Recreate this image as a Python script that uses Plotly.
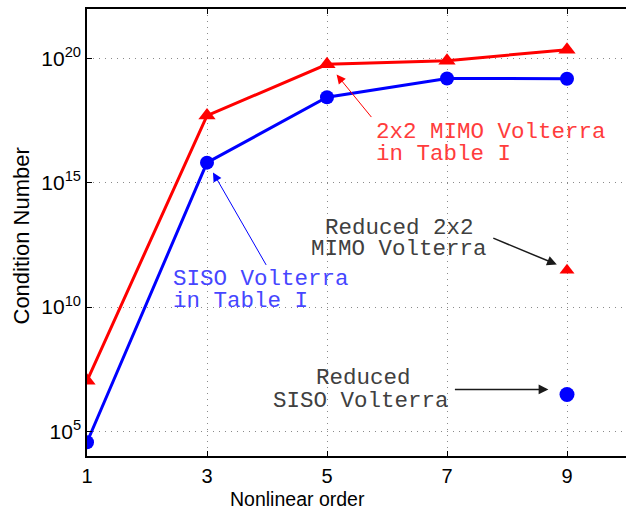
import plotly.graph_objects as go

# ---- data ----
orders = [1, 3, 5, 7, 9]
siso_cond = [3.6e4, 6.5e15, 2.8e18, 1.6e19, 1.55e19]
mimo_cond = [1.07e7, 5.1e17, 5.9e19, 8.3e19, 2.3e20]
reduced_order = [9]
reduced_siso_cond = [3.0e6]
reduced_mimo_cond = [3.0e11]
x_tick_vals = [1, 3, 5, 7, 9]
x_tick_text = ["1", "3", "5", "7", "9"]
y_tick_vals = [1e5, 1e10, 1e15, 1e20]
y_tick_text = ["10<sup>5</sup>", "10<sup>10</sup>", "10<sup>15</sup>", "10<sup>20</sup>"]

W, H = 626, 509
ML, MR, MT, MB = 87, 0, 9, 53
plot_w = W - ML - MR
x_range = [1, 1 + plot_w / 60.0]

sans = "Liberation Sans, Arial, Helvetica, sans-serif"
mono = "Liberation Mono, Courier New, monospace"

fig = go.Figure()
fig.add_trace(go.Scatter(
    x=orders, y=siso_cond, mode="lines+markers",
    line=dict(color="#0000ff", width=3),
    marker=dict(symbol="circle", size=14, color="#0000ff"),
    showlegend=False))
fig.add_trace(go.Scatter(
    x=orders, y=mimo_cond, mode="lines+markers",
    line=dict(color="#ff0000", width=3),
    marker=dict(symbol="triangle-up", size=15, color="#ff0000"),
    showlegend=False))
fig.add_trace(go.Scatter(
    x=reduced_order, y=reduced_siso_cond, mode="markers",
    marker=dict(symbol="circle", size=15, color="#0000ff"),
    showlegend=False))
fig.add_trace(go.Scatter(
    x=reduced_order, y=reduced_mimo_cond, mode="markers",
    marker=dict(symbol="triangle-up", size=13, color="#ff0000"),
    showlegend=False))

grid = dict(showgrid=True, gridcolor="#8a8a8a", griddash="1px,5px", gridwidth=1)

fig.update_layout(
    width=W, height=H,
    margin=dict(l=ML, r=MR, t=MT, b=MB),
    paper_bgcolor="white", plot_bgcolor="white",
    xaxis=dict(range=x_range, tickvals=x_tick_vals, ticktext=x_tick_text,
               ticks="inside", ticklen=5, tickwidth=1, tickcolor="black",
               showline=True, linecolor="black", linewidth=1.5, mirror="ticks",
               zeroline=False, ticklabelstandoff=1,
               tickfont=dict(family=sans, size=20, color="black"),
               **grid),
    yaxis=dict(type="log", range=[4, 22], tickvals=y_tick_vals, ticktext=y_tick_text,
               ticks="inside", ticklen=5, tickwidth=1, tickcolor="black",
               showline=True, linecolor="black", linewidth=1.5, mirror=False,
               zeroline=False, tickfont=dict(family=sans, size=21, color="black"),
               **grid),
)

ann = []
# axis titles
ann.append(dict(text="Nonlinear order", xref="paper", yref="paper",
                x=(297 - ML) / plot_w, y=-(499 - (H - MB)) / (H - MT - MB),
                xanchor="center", yanchor="middle", showarrow=False,
                font=dict(family=sans, size=19.5, color="black")))
ann.append(dict(text="Condition Number", xref="paper", yref="paper",
                x=(21 - ML) / plot_w, y=((H - MB) - 236.5) / (H - MT - MB),
                xanchor="center", yanchor="middle", showarrow=False, textangle=-90,
                font=dict(family=sans, size=22, color="black")))

def txt(s, x, y, color, anchor="left"):
    ann.append(dict(text=s, x=x, y=y, xref="x", yref="y", xanchor=anchor,
                    yanchor="middle", showarrow=False,
                    font=dict(family=mono, size=22.5, color=color)))

red_t = "#ff3c3c"
blue_t = "#4646ff"
gray_t = "#404040"
txt("2x2 MIMO Volterra", 5.79, 17.03, red_t)
txt("in Table I", 5.79, 16.17, red_t)
txt("SISO Volterra", 2.40, 11.11, blue_t)
txt("in Table I", 2.40, 10.23, blue_t)
txt("Reduced 2x2", 6.2, 13.19, gray_t, "center")
txt("MIMO Volterra", 6.2, 12.32, gray_t, "center")
txt("Reduced", 5.6, 7.16, gray_t, "center")
txt("SISO Volterra", 5.56, 6.21, gray_t, "center")

def arrow(x, y, ax, ay, color, width, size):
    ann.append(dict(text="", x=x, y=y, xref="x", yref="y", ax=ax, ay=ay,
                    axref="pixel", ayref="pixel", showarrow=True,
                    arrowhead=2, arrowsize=size, arrowwidth=width,
                    arrowcolor=color, standoff=0))

arrow(5.16, 19.36, 36, 44, "#ff0000", 1, 1.8)
arrow(3.10, 15.42, 54, 94, "#0000ff", 1, 1.8)
arrow(8.83, 11.71, -65, -27, "#1a1a1a", 1.5, 1.3)
arrow(8.69, 6.68, -95, 0, "#1a1a1a", 1.5, 1.3)

fig.update_layout(annotations=ann)
fig.write_html("out.html")
